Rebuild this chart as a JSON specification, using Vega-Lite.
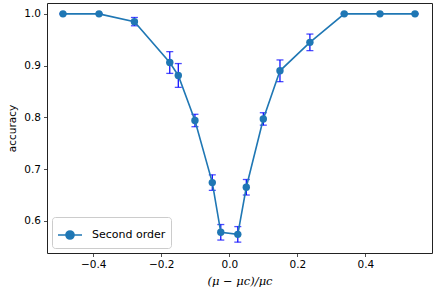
{
  "$schema": "https://vega.github.io/schema/vega-lite/v6.json",
  "width": 385,
  "height": 250,
  "autosize": {"type": "none"},
  "padding": {"left": 47, "top": 3, "right": 4, "bottom": 41},
  "background": "white",
  "config": {
    "font": "DejaVu Sans",
    "view": {"stroke": "#222", "strokeWidth": 1},
    "axis": {
      "grid": false,
      "domain": false,
      "tickColor": "#222",
      "tickSize": 3.5,
      "tickWidth": 0.8,
      "labelFont": "DejaVu Sans",
      "labelFontSize": 10.5,
      "labelColor": "#000",
      "titleFontWeight": "normal",
      "titleColor": "#000",
      "titleFontSize": 10.5
    }
  },
  "data": {
    "values": [
      {"x": -0.489, "acc": 1.0, "lo": 1.0, "hi": 1.0, "series": "Second order"},
      {"x": -0.383, "acc": 1.0, "lo": 1.0, "hi": 1.0, "series": "Second order"},
      {"x": -0.279, "acc": 0.985, "lo": 0.977, "hi": 0.993, "series": "Second order"},
      {"x": -0.175, "acc": 0.906, "lo": 0.885, "hi": 0.927, "series": "Second order"},
      {"x": -0.150, "acc": 0.881, "lo": 0.858, "hi": 0.904, "series": "Second order"},
      {"x": -0.101, "acc": 0.794, "lo": 0.782, "hi": 0.806, "series": "Second order"},
      {"x": -0.050, "acc": 0.674, "lo": 0.659, "hi": 0.689, "series": "Second order"},
      {"x": -0.025, "acc": 0.578, "lo": 0.563, "hi": 0.593, "series": "Second order"},
      {"x": 0.025, "acc": 0.574, "lo": 0.559, "hi": 0.589, "series": "Second order"},
      {"x": 0.050, "acc": 0.665, "lo": 0.650, "hi": 0.680, "series": "Second order"},
      {"x": 0.100, "acc": 0.797, "lo": 0.785, "hi": 0.809, "series": "Second order"},
      {"x": 0.149, "acc": 0.890, "lo": 0.869, "hi": 0.911, "series": "Second order"},
      {"x": 0.237, "acc": 0.945, "lo": 0.929, "hi": 0.961, "series": "Second order"},
      {"x": 0.338, "acc": 1.0, "lo": 1.0, "hi": 1.0, "series": "Second order"},
      {"x": 0.443, "acc": 1.0, "lo": 1.0, "hi": 1.0, "series": "Second order"},
      {"x": 0.546, "acc": 1.0, "lo": 1.0, "hi": 1.0, "series": "Second order"}
    ]
  },
  "encoding": {
    "x": {
      "field": "x",
      "type": "quantitative",
      "scale": {"domain": [-0.536, 0.596], "nice": false, "zero": false},
      "axis": {
        "values": [-0.4, -0.2, 0.0, 0.2, 0.4],
        "format": ".1f",
        "title": "(μ − μc)/μc",
        "titleFont": "DejaVu Serif",
        "titleFontStyle": "italic",
        "titleFontSize": 11.5,
        "titlePadding": 5,
        "labelPadding": 3
      }
    }
  },
  "layer": [
    {
      "mark": {"type": "rule", "color": "#0000ff", "strokeWidth": 1.2},
      "encoding": {
        "y": {"field": "lo", "type": "quantitative"},
        "y2": {"field": "hi"}
      }
    },
    {
      "mark": {"type": "tick", "color": "#0000ff", "orient": "horizontal", "size": 7, "thickness": 1.3},
      "encoding": {"y": {"field": "lo", "type": "quantitative"}}
    },
    {
      "mark": {"type": "tick", "color": "#0000ff", "orient": "horizontal", "size": 7, "thickness": 1.3},
      "encoding": {"y": {"field": "hi", "type": "quantitative"}}
    },
    {
      "mark": {"type": "line", "strokeWidth": 1.6},
      "encoding": {
        "y": {"field": "acc", "type": "quantitative"},
        "color": {
          "field": "series",
          "type": "nominal",
          "scale": {"range": ["#1f77b4"]},
          "legend": {
            "title": null,
            "orient": "bottom-left",
            "offset": 5,
            "fillColor": "white",
            "strokeColor": "#cccccc",
            "cornerRadius": 3,
            "padding": 5,
            "symbolType": "M-1,0H1M0.34,0A0.34,0.34 0 1,1 -0.34,0A0.34,0.34 0 1,1 0.34,0Z",
            "symbolSize": 576,
            "symbolStrokeWidth": 1.5,
            "symbolFillColor": "#1f77b4",
            "symbolStrokeColor": "#1f77b4",
            "labelFontSize": 11,
            "labelFont": "DejaVu Sans",
            "labelColor": "#000",
            "labelOffset": 9
          }
        }
      }
    },
    {
      "mark": {"type": "point", "filled": true, "shape": "circle", "size": 55, "opacity": 1, "color": "#1f77b4"},
      "encoding": {
        "y": {
          "field": "acc",
          "type": "quantitative",
          "scale": {"domain": [0.538, 1.021], "nice": false, "zero": false},
          "axis": {
            "values": [0.6, 0.7, 0.8, 0.9, 1.0],
            "format": ".1f",
            "title": "accuracy",
            "titlePadding": 6,
            "labelPadding": 3
          }
        }
      }
    }
  ],
  "resolve": {"scale": {"y": "shared"}}
}
